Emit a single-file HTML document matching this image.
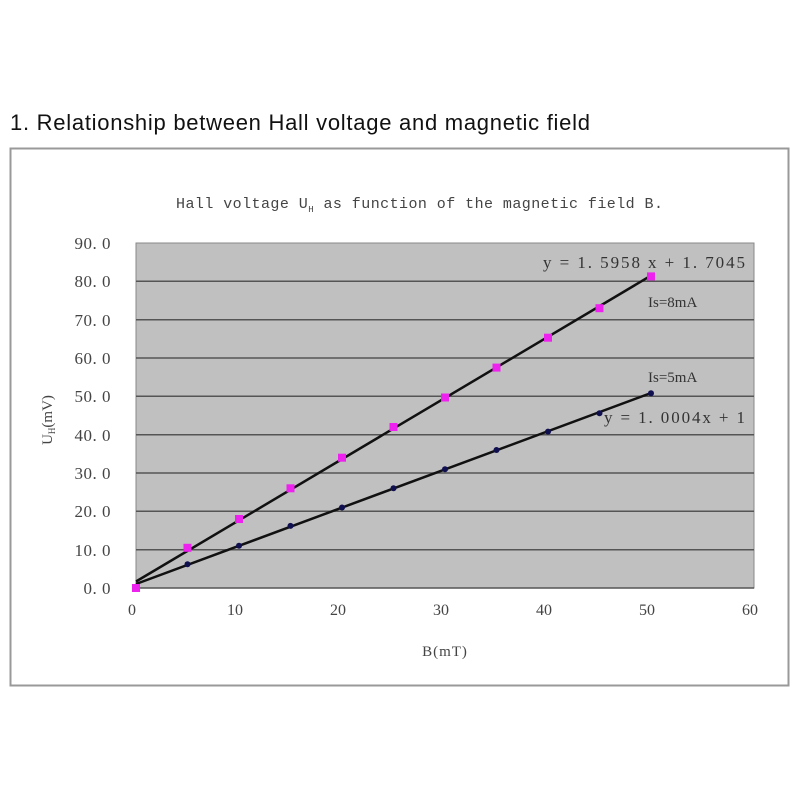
<!DOCTYPE html>
<html><head><meta charset="utf-8"><style>
body{margin:0;background:#fff;width:800px;height:800px;overflow:hidden}
</style></head><body>
<svg width="800" height="800" xmlns="http://www.w3.org/2000/svg">
<text x="10" y="130" font-family="Liberation Sans, sans-serif" font-size="22" fill="#111" textLength="580">1. Relationship between Hall voltage and magnetic field</text>
<rect x="10.5" y="148.5" width="778" height="537" fill="#fff" stroke="#999" stroke-width="2"/>
<text x="176" y="208" font-family="Liberation Mono, monospace" font-size="15" fill="#444" textLength="487">Hall voltage U<tspan font-size="9" dy="4">H</tspan><tspan dy="-4"> as function of the magnetic field B.</tspan></text>
<rect x="136" y="243" width="618" height="345" fill="#c0c0c0" stroke="#888"/>
<g stroke="#555" stroke-width="1.5">
<line x1="136" y1="549.7" x2="754" y2="549.7"/><line x1="136" y1="511.3" x2="754" y2="511.3"/>
<line x1="136" y1="473" x2="754" y2="473"/><line x1="136" y1="434.7" x2="754" y2="434.7"/>
<line x1="136" y1="396.3" x2="754" y2="396.3"/><line x1="136" y1="358" x2="754" y2="358"/>
<line x1="136" y1="319.7" x2="754" y2="319.7"/><line x1="136" y1="281.3" x2="754" y2="281.3"/>
<line x1="136" y1="588" x2="754" y2="588"/>
</g>
<g font-family="Liberation Serif, serif" font-size="17" fill="#444" text-anchor="end" letter-spacing="0.5">
<text x="111" y="594">0. 0</text><text x="111" y="556">10. 0</text><text x="111" y="517">20. 0</text>
<text x="111" y="479">30. 0</text><text x="111" y="441">40. 0</text><text x="111" y="402">50. 0</text>
<text x="111" y="364">60. 0</text><text x="111" y="326">70. 0</text><text x="111" y="287">80. 0</text>
<text x="111" y="249">90. 0</text>
</g>
<g font-family="Liberation Serif, serif" font-size="16" fill="#444" text-anchor="middle">
<text x="132" y="615">0</text><text x="235" y="615">10</text><text x="338" y="615">20</text>
<text x="441" y="615">30</text><text x="544" y="615">40</text><text x="647" y="615">50</text><text x="750" y="615">60</text>
<text x="445" y="656" font-size="15" letter-spacing="1">B(mT)</text>
</g>
<text transform="translate(52,420) rotate(-90)" text-anchor="middle" font-family="Liberation Serif, serif" font-size="15" fill="#444">U<tspan font-size="9" dy="3">H</tspan><tspan dy="-3">(mV)</tspan></text>
<line x1="136" y1="581.5" x2="651" y2="275.6" stroke="#111" stroke-width="2.5"/>
<line x1="136" y1="584" x2="651" y2="393" stroke="#111" stroke-width="2.5"/>
<g fill="#ee22ee">
<rect x="132" y="584" width="8" height="8"/><rect x="183.5" y="543.8" width="8" height="8"/>
<rect x="235" y="515" width="8" height="8"/><rect x="286.5" y="484.3" width="8" height="8"/>
<rect x="338" y="453.7" width="8" height="8"/><rect x="389.5" y="423" width="8" height="8"/>
<rect x="441" y="393.5" width="8" height="8"/><rect x="492.5" y="363.6" width="8" height="8"/>
<rect x="544" y="333.7" width="8" height="8"/><rect x="595.5" y="304.2" width="8" height="8"/>
<rect x="647" y="272.4" width="8" height="8"/>
</g>
<g fill="#101050">
<circle cx="187.5" cy="564.2" r="3"/><circle cx="239" cy="545.8" r="3"/><circle cx="290.5" cy="525.9" r="3"/>
<circle cx="342" cy="507.5" r="3"/><circle cx="393.5" cy="488.3" r="3"/><circle cx="445" cy="469.2" r="3"/>
<circle cx="496.5" cy="450" r="3"/><circle cx="548" cy="431.6" r="3"/><circle cx="599.5" cy="413.2" r="3"/>
<circle cx="651" cy="393.3" r="3"/>
</g>
<g font-family="Liberation Serif, serif" font-size="17" fill="#333">
<text x="543" y="268" textLength="202">y = 1. 5958  x + 1. 7045</text>
<text x="648" y="307" font-size="15">Is=8mA</text>
<text x="648" y="382" font-size="15">Is=5mA</text>
<text x="604" y="423" textLength="141">y = 1. 0004x + 1</text>
</g>
</svg>
</body></html>
